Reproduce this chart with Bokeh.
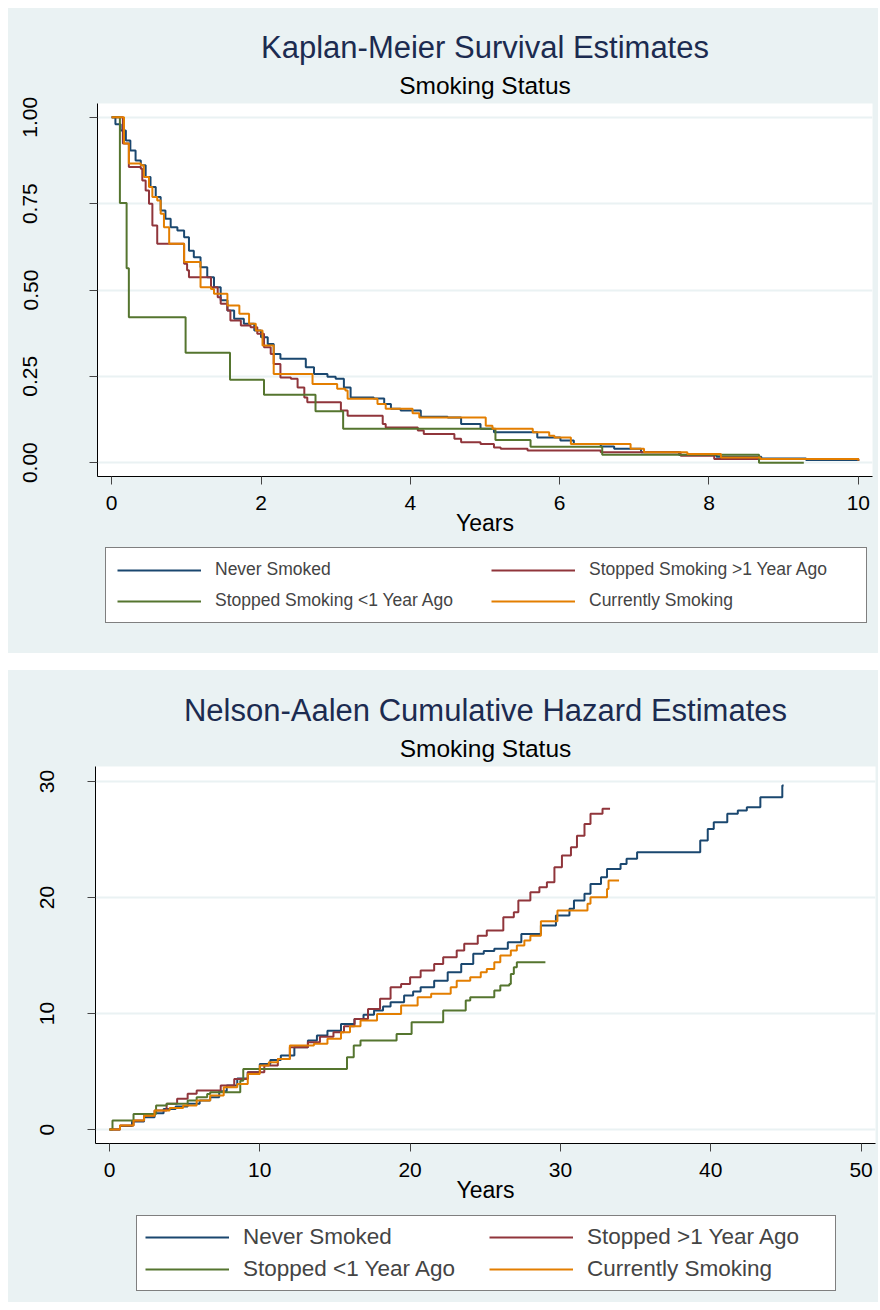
from bokeh.plotting import figure
from bokeh.models import Title, Legend, LegendItem, FixedTicker, NumeralTickFormatter, Range1d
from bokeh.layouts import column
from bokeh.embed import file_html
from bokeh.resources import INLINE

BG = "#EAF2F3"
TITLE_COLOR = "#1C2B50"
FONT = "Liberation Sans"
COLORS = ["#1A476F", "#90353B", "#55752F", "#E37E00"]

# ---------------- Kaplan-Meier data (time of drop, survival after drop) ----------------
km_never_t = [0, 0.05, 0.12, 0.19, 0.25, 0.32, 0.39, 0.455, 0.52, 0.59, 0.656, 0.72, 0.79, 0.88,
              0.97, 1.035, 1.10, 1.19, 1.28, 1.37, 1.46, 1.55, 1.64, 1.77, 1.91, 2.0, 2.09, 2.17,
              2.26, 2.60, 2.71, 2.89, 3.0, 3.11, 3.20, 3.51, 3.65, 3.74, 3.87, 4.14, 4.5, 4.68,
              4.94, 5.12, 5.70, 6.01, 6.19, 6.55, 6.73, 7.09, 7.6, 8.1, 8.7, 9.3, 10.0]
km_never_s = [1.0, 0.98, 0.962, 0.933, 0.904, 0.875, 0.861, 0.827, 0.798, 0.769, 0.730, 0.706,
              0.682, 0.672, 0.653, 0.614, 0.595, 0.566, 0.537, 0.508, 0.470, 0.441, 0.417, 0.402,
              0.383, 0.363, 0.344, 0.315, 0.301, 0.276, 0.257, 0.249, 0.243, 0.218, 0.189, 0.186,
              0.170, 0.156, 0.151, 0.133, 0.131, 0.112, 0.098, 0.088, 0.073, 0.064, 0.054, 0.047,
              0.040, 0.030, 0.022, 0.017, 0.012, 0.008, 0.005]

km_gt1_t = [0, 0.15, 0.23, 0.39, 0.41, 0.455, 0.50, 0.545, 0.61, 0.97, 1.01, 1.035, 1.33, 1.42,
            1.46, 1.55, 1.59, 1.73, 1.86, 1.95, 2.04, 2.13, 2.17, 2.26, 2.40, 2.49, 2.58, 2.62,
            3.07, 3.16, 3.63, 3.67, 4.10, 4.18, 4.59, 4.68, 4.94, 5.12, 5.21, 5.57, 6.55, 7.62,
            8.07, 10.0]
km_gt1_s = [1.0, 0.924, 0.856, 0.851, 0.817, 0.788, 0.750, 0.687, 0.634, 0.576, 0.557, 0.537,
            0.508, 0.479, 0.460, 0.441, 0.412, 0.397, 0.392, 0.373, 0.334, 0.315, 0.286, 0.247,
            0.243, 0.218, 0.189, 0.175, 0.151, 0.136, 0.112, 0.102, 0.093, 0.083, 0.069, 0.059,
            0.054, 0.044, 0.040, 0.035, 0.030, 0.020, 0.011, 0.006]

km_lt1_t = [0, 0.11, 0.20, 0.23, 0.99, 1.585, 2.04, 2.73, 3.10, 5.14, 5.61, 6.57, 8.67, 9.27]
km_lt1_s = [1.0, 0.752, 0.563, 0.421, 0.318, 0.240, 0.197, 0.149, 0.098, 0.066, 0.046, 0.023,
            0.0, 0.0]

km_cur_t = [0, 0.14, 0.165, 0.23, 0.39, 0.43, 0.50, 0.545, 0.61, 0.656, 0.70, 0.77, 0.97, 1.19,
            1.33, 1.37, 1.55, 1.71, 1.84, 1.93, 2.02, 2.17, 2.69, 3.02, 3.13, 3.16, 3.56, 3.67,
            4.03, 4.12, 5.01, 5.10, 5.64, 5.86, 5.93, 6.15, 6.95, 7.13, 7.71, 8.16, 8.69, 10.0]
km_cur_s = [1.0, 1.0, 0.924, 0.866, 0.861, 0.827, 0.798, 0.769, 0.759, 0.721, 0.682, 0.634,
            0.581, 0.508, 0.503, 0.489, 0.455, 0.431, 0.402, 0.383, 0.339, 0.257, 0.228, 0.214,
            0.209, 0.185, 0.170, 0.156, 0.143, 0.131, 0.107, 0.098, 0.088, 0.078, 0.073, 0.054,
            0.040, 0.030, 0.025, 0.015, 0.011, 0.006]

km_labels = ["Never Smoked", "Stopped Smoking >1 Year Ago",
             "Stopped Smoking <1 Year Ago", "Currently Smoking"]
km_xticks = [0, 2, 4, 6, 8, 10]
km_yticks = [0.0, 0.25, 0.5, 0.75, 1.0]

# ---------------- Nelson-Aalen data (time of jump, cumulative hazard after jump) ----------------
na_never_t = [0, 0.7, 1.5, 2.3, 3.0, 3.6, 4.4, 5.2, 6.0, 6.7, 7.3, 7.8, 8.5, 9.2, 10.0, 10.7,
              11.4, 12.3, 13.2, 13.8, 14.5, 15.4, 16.3, 16.9, 17.6, 18.2, 18.7, 19.6, 20.2, 20.7,
              21.6, 22.5, 23.4, 24.2, 24.9, 25.6, 26.5, 27.4, 28.7, 29.7, 30.6, 30.9, 31.6, 32.0,
              32.7, 33.1, 34.0, 34.4, 35.1, 39.3, 39.8, 40.2, 41.1, 41.8, 42.4, 43.3, 44.76, 44.85]
na_never_h = [0, 0.3, 0.7, 1.06, 1.4, 1.78, 2.0, 2.22, 2.5, 2.78, 3.3, 3.79, 4.4, 4.94, 5.66,
              6.0, 6.38, 7.09, 7.67, 8.1, 8.53, 9.11, 9.54, 9.9, 10.26, 10.6, 10.97, 11.55, 11.9,
              12.27, 12.84, 13.56, 14.28, 15.15, 15.4, 15.58, 16.15, 16.87, 17.59, 18.45, 19.03,
              19.74, 20.32, 21.18, 21.75, 22.47, 22.90, 23.34, 23.91, 24.91, 25.92, 26.49, 27.22,
              27.5, 27.78, 28.65, 29.66, 29.66]

na_gt1_t = [0, 0.7, 1.6, 2.3, 3.0, 3.8, 4.5, 5.2, 5.8, 7.4, 8.3, 9.2, 10.3, 11.2, 12.0, 13.2,
            14.0, 14.9, 15.6, 16.3, 17.2, 18.0, 18.7, 19.4, 20.0, 20.7, 21.6, 22.2, 23.1, 23.6,
            24.5, 25.1, 26.2, 26.9, 27.2, 28.0, 28.6, 29.1, 29.6, 30.1, 30.7, 31.1, 31.6, 32.0,
            32.8, 33.3]
na_gt1_h = [0, 0.35, 0.78, 1.2, 1.64, 2.22, 2.65, 3.08, 3.36, 3.79, 4.37, 4.94, 5.52, 6.09,
            7.09, 7.53, 8.0, 8.39, 8.9, 9.54, 10.40, 11.27, 12.27, 12.56, 13.13, 13.71, 14.28,
            14.85, 15.43, 16.01, 16.72, 17.16, 18.30, 18.73, 19.74, 20.46, 20.89, 21.32, 22.61,
            23.62, 24.34, 25.34, 26.35, 27.22, 27.65, 27.65]

na_lt1_t = [0, 0.2, 1.6, 3.1, 3.8, 5.2, 5.8, 6.5, 6.7, 8.7, 8.9, 15.8, 16.25, 16.7, 19.1, 20.1,
            22.2, 23.7, 24.0, 25.6, 26.0, 26.6, 26.7, 26.9, 27.1, 29.0]
na_lt1_h = [0, 0.78, 1.35, 2.07, 2.22, 2.50, 2.78, 3.07, 3.22, 4.22, 5.23, 6.23, 7.24, 7.67,
            8.25, 9.25, 10.26, 11.12, 11.41, 11.98, 12.41, 12.56, 13.42, 13.99, 14.42, 14.42]

na_cur_t = [0, 0.7, 1.6, 2.3, 3.0, 4.0, 4.9, 5.8, 6.7, 7.6, 8.5, 9.2, 10.0, 10.6, 11.2, 12.0,
            13.6, 14.5, 15.4, 16.0, 16.7, 17.8, 19.4, 20.5, 21.4, 22.7, 23.1, 24.0, 24.7, 25.1,
            25.6, 26.0, 26.7, 27.1, 27.6, 28.0, 28.7, 29.8, 31.8, 32.0, 33.1, 33.2, 33.9]
na_cur_h = [0, 0.35, 0.78, 1.2, 1.64, 1.85, 2.07, 2.50, 2.93, 3.65, 3.94, 4.80, 5.52, 5.8, 6.09,
            7.24, 7.39, 7.82, 8.39, 8.9, 9.40, 9.97, 10.69, 11.41, 11.70, 12.27, 12.84, 13.13,
            13.56, 13.85, 14.42, 15.0, 15.43, 15.86, 16.29, 16.72, 17.96, 18.88, 19.46, 20.03,
            20.75, 21.47, 21.47]

na_labels = ["Never Smoked", "Stopped >1 Year Ago", "Stopped <1 Year Ago", "Currently Smoking"]
na_xticks = [0, 10, 20, 30, 40, 50]
na_yticks = [0, 10, 20, 30]


def build(title, subtitle, title_size, series, xr, yr, xticks, yticks, yfmt, height,
          borders, ylab_standoff):
    p = figure(width=870, height=height, output_backend="svg", toolbar_location=None,
               x_range=Range1d(*xr), y_range=Range1d(*yr),
               min_border_left=borders[0], min_border_right=borders[1],
               min_border_top=borders[2], min_border_bottom=borders[3])
    p.background_fill_color = "white"
    p.border_fill_color = BG
    p.outline_line_color = None

    p.title.text = title
    p.title.align = "center"
    p.title.text_font = FONT
    p.title.text_font_size = title_size
    p.title.text_font_style = "normal"
    p.title.text_color = TITLE_COLOR
    p.title.standoff = 1
    p.add_layout(Title(text=subtitle, align="center", text_font=FONT, text_font_size="24.5px",
                       text_font_style="normal", text_color="black", standoff=9), "above")

    p.xaxis.ticker = FixedTicker(ticks=xticks)
    p.yaxis.ticker = FixedTicker(ticks=yticks)
    p.yaxis.formatter = NumeralTickFormatter(format=yfmt)
    for ax in (p.xaxis[0], p.yaxis[0]):
        ax.axis_line_color = "black"
        ax.axis_line_width = 1
        ax.major_tick_line_color = "#444444"
        ax.major_tick_out = 8
        ax.major_tick_in = 0
        ax.minor_tick_line_color = None
        ax.major_label_text_font = FONT
        ax.major_label_text_font_size = "21px"
        ax.major_label_text_color = "black"
    p.xaxis.major_label_standoff = 11
    p.yaxis.major_label_standoff = ylab_standoff
    p.yaxis.major_label_orientation = "vertical"
    p.xaxis.axis_label = "Years"
    p.xaxis.axis_label_text_font = FONT
    p.xaxis.axis_label_text_font_size = "23px"
    p.xaxis.axis_label_text_font_style = "normal"
    p.xaxis.axis_label_text_color = "black"
    p.xaxis.axis_label_standoff = -3

    p.xgrid.visible = False
    p.ygrid.grid_line_color = BG
    p.ygrid.grid_line_width = 2

    for (t, v), col in zip(series, COLORS):
        p.step(t, v, mode="after", line_color=col, line_width=2)
    return p


def legend_panel(height, series, labels, font, label_w, pad, spacing, loc):
    # the series are drawn again here only so the legend has its line keys;
    # the y range lies far outside the data so nothing shows in this strip
    f = figure(width=870, height=height, output_backend="svg", toolbar_location=None,
               x_axis_type=None, y_axis_type=None, min_border=0,
               x_range=Range1d(0, 1), y_range=Range1d(1000, 1001))
    f.background_fill_color = BG
    f.border_fill_color = BG
    f.outline_line_color = None
    f.title.visible = False
    items = []
    for (t, v), lab, col in zip(series, labels, COLORS):
        r = f.step(t, v, mode="after", line_color=col, line_width=2)
        items.append(LegendItem(label=lab, renderers=[r]))
    leg = Legend(items=items, orientation="horizontal", ncols=2, location=loc,
                 label_text_font=FONT, label_text_font_size=font,
                 glyph_width=84, label_standoff=14, label_width=label_w,
                 padding=pad, spacing=spacing, margin=0,
                 border_line_color="black", border_line_width=1,
                 background_fill_color="white", background_fill_alpha=1.0)
    f.add_layout(leg, "center")
    return f


km_series = [(km_never_t, km_never_s), (km_gt1_t, km_gt1_s), (km_lt1_t, km_lt1_s), (km_cur_t, km_cur_s)]
na_series = [(na_never_t, na_never_h), (na_gt1_t, na_gt1_h), (na_lt1_t, na_lt1_h), (na_cur_t, na_cur_h)]

p1 = build("Kaplan-Meier Survival Estimates", "Smoking Status", "31px", km_series,
           (-0.19, 10.19), (-0.04, 1.04), km_xticks, km_yticks, "0.00", 532,
           (89, 6, 95, 64), 52)
l1 = legend_panel(113, km_series, km_labels, "17.5px", 266, 11, 10, (8, 30))

p2 = build("Nelson-Aalen Cumulative Hazard Estimates", "Smoking Status", "31px", na_series,
           (-0.93, 50.96), (-1.2, 31.3), na_xticks, na_yticks, "0", 537,
           (87, 3, 96, 64), 33)
l2 = legend_panel(95, na_series, na_labels, "22.5px", 240, 8, 6, (41, 11))

panel1 = column(p1, l1, spacing=0, styles={"background-color": BG})
panel1.margin = (8, 0, 0, 8)
panel2 = column(p2, l2, spacing=0, styles={"background-color": BG})
panel2.margin = (0, 0, 0, 8)
layout = column(panel1, panel2, spacing=17)
open("out.html", "w").write(file_html(layout, INLINE))
